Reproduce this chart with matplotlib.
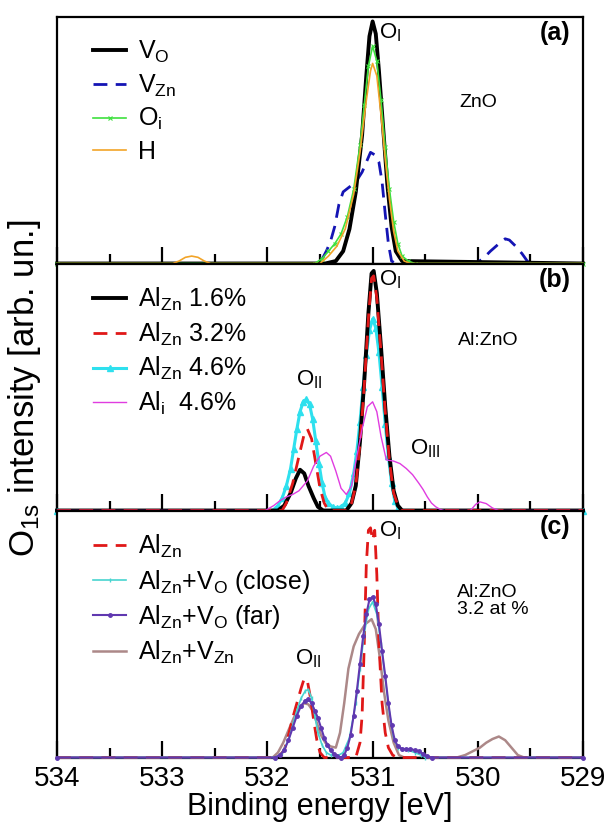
import matplotlib
matplotlib.use('Agg')
import matplotlib.pyplot as plt
from matplotlib.ticker import MultipleLocator

plt.rcParams['font.family'] = ['Liberation Sans', 'DejaVu Sans']
plt.rcParams['mathtext.fontset'] = 'custom'
plt.rcParams['mathtext.rm'] = 'Liberation Sans'
plt.rcParams['mathtext.it'] = 'Liberation Sans:italic'

# ---- panel (a): ZnO ----
vo_e = [534, 531.45, 531.35, 531.28, 531.22, 531.16, 531.10, 531.06, 531.03, 531.0,
        530.97, 530.94, 530.90, 530.86, 530.82, 530.78, 530.72, 529]
vo_y = [0, 0, 0.01, 0.05, 0.14, 0.29, 0.52, 0.76, 0.92, 0.98,
        0.93, 0.78, 0.55, 0.32, 0.15, 0.05, 0.01, 0]

vzn_e = [534, 531.52, 531.49, 531.44, 531.40, 531.36, 531.32, 531.28, 531.22, 531.16,
         531.10, 531.06, 531.02, 530.98, 530.94, 530.91, 530.88, 530.85, 530.82, 530.78,
         530.02, 529.95, 529.88, 529.80, 529.74, 529.70, 529.64, 529.58, 529.53, 529.5, 529]
vzn_y = [0, 0, 0.01, 0.05, 0.09, 0.15, 0.24, 0.29, 0.31, 0.33,
         0.37, 0.41, 0.45, 0.44, 0.41, 0.33, 0.20, 0.08, 0.01, 0,
         0, 0.02, 0.05, 0.08, 0.10, 0.095, 0.07, 0.04, 0.01, 0, 0]

oi_e = [534, 531.55, 531.48, 531.42, 531.36, 531.30, 531.24, 531.18, 531.12, 531.08,
        531.04, 531.0, 530.96, 530.92, 530.88, 530.84, 530.80, 530.76, 530.72, 530.66,
        530.6, 529]
oi_y = [0, 0, 0.02, 0.05, 0.08, 0.12, 0.19, 0.30, 0.48, 0.64,
        0.80, 0.88, 0.82, 0.66, 0.47, 0.30, 0.17, 0.08, 0.03, 0.01,
        0, 0]

h_e = [534, 532.9, 532.84, 532.78, 532.72, 532.66, 532.6, 532.54, 531.5, 531.42,
       531.34, 531.26, 531.18, 531.12, 531.06, 531.02, 531.0, 530.96, 530.92, 530.88,
       530.84, 530.80, 530.76, 530.7, 530.64, 529]
h_y = [0, 0, 0.01, 0.025, 0.03, 0.025, 0.01, 0, 0, 0.03,
       0.07, 0.14, 0.28, 0.45, 0.66, 0.78, 0.81, 0.76, 0.60, 0.42,
       0.26, 0.13, 0.05, 0.01, 0, 0]

# ---- panel (b): Al:ZnO ----
al16_e = [534, 531.9, 531.84, 531.78, 531.73, 531.69, 531.65, 531.61, 531.56, 531.52,
          531.47, 531.25, 531.2, 531.16, 531.12, 531.08, 531.04, 531.01, 530.99, 530.96,
          530.92, 530.88, 530.84, 530.80, 530.76, 530.72, 529]
al16_y = [0, 0, 0.02, 0.07, 0.13, 0.165, 0.15, 0.10, 0.05, 0.015,
          0, 0, 0.03, 0.10, 0.28, 0.52, 0.80, 0.96, 0.97, 0.88,
          0.66, 0.42, 0.22, 0.08, 0.02, 0, 0]

al32_e = [534, 531.86, 531.82, 531.76, 531.70, 531.65, 531.62, 531.58, 531.54, 531.50,
          531.46, 531.42, 531.24, 531.2, 531.16, 531.12, 531.08, 531.04, 531.01, 530.99,
          530.96, 530.92, 530.88, 530.84, 530.80, 530.76, 530.72, 529]
al32_y = [0, 0, 0.03, 0.11, 0.22, 0.31, 0.33, 0.29, 0.19, 0.09,
          0.03, 0, 0, 0.03, 0.10, 0.27, 0.50, 0.78, 0.94, 0.95,
          0.86, 0.64, 0.40, 0.20, 0.07, 0.02, 0, 0]

al46_e = [534, 531.95, 531.90, 531.86, 531.82, 531.78, 531.75, 531.72, 531.69, 531.66,
          531.63, 531.60, 531.57, 531.54, 531.51, 531.48, 531.45, 531.42, 531.38, 531.34,
          531.30, 531.26, 531.22, 531.18, 531.15, 531.12, 531.09, 531.06, 531.03, 531.0,
          530.97, 530.94, 530.91, 530.88, 530.85, 530.82, 530.79, 530.76, 530.72, 529]
al46_y = [0, 0, 0.02, 0.05, 0.10, 0.17, 0.25, 0.33, 0.40, 0.44,
          0.45, 0.43, 0.37, 0.28, 0.19, 0.11, 0.05, 0.03, 0.015, 0.01,
          0.015, 0.03, 0.07, 0.15, 0.24, 0.36, 0.50, 0.63, 0.73, 0.775,
          0.74, 0.64, 0.50, 0.35, 0.22, 0.11, 0.04, 0.01, 0, 0]

ali_e = [534, 532.02, 531.98, 531.94, 531.88, 531.82, 531.76, 531.70, 531.62, 531.56,
         531.50, 531.44, 531.40, 531.35, 531.30, 531.25, 531.20, 531.15, 531.10, 531.05,
         531.0, 530.96, 530.92, 530.87, 530.80, 530.74, 530.68, 530.62, 530.56, 530.52,
         530.48, 530.44, 530.40, 530.36, 530.32, 530.07, 530.02, 529.98, 529.92, 529.86,
         529.80, 529]
ali_y = [0, 0, 0.01, 0.02, 0.04, 0.055, 0.065, 0.08, 0.12, 0.18,
         0.22, 0.235, 0.22, 0.16, 0.09, 0.065, 0.10, 0.22, 0.33, 0.42,
         0.44, 0.40, 0.30, 0.205, 0.20, 0.19, 0.17, 0.145, 0.11, 0.085,
         0.055, 0.03, 0.015, 0.005, 0, 0, 0.025, 0.035, 0.028, 0.01,
         0, 0]

# ---- panel (c): Al:ZnO 3.2 at % with defects ----
alzn_e = [534, 531.90, 531.84, 531.80, 531.76, 531.72, 531.68, 531.65, 531.62, 531.59,
          531.56, 531.53, 531.50, 531.46, 531.16, 531.12, 531.10, 531.08, 531.06, 531.04,
          531.02, 531.0, 530.98, 530.96, 530.94, 530.91, 530.88, 530.85, 530.81, 530.77, 529]
alzn_y = [0, 0, 0.03, 0.09, 0.16, 0.22, 0.28, 0.32, 0.31, 0.24,
          0.15, 0.07, 0.02, 0, 0, 0.06, 0.17, 0.45, 0.78, 0.92,
          0.93, 0.88, 0.92, 0.74, 0.46, 0.22, 0.10, 0.04, 0.01, 0, 0]

close_e = [534, 531.92, 531.86, 531.80, 531.76, 531.72, 531.68, 531.64, 531.61, 531.58,
           531.55, 531.52, 531.48, 531.44, 531.40, 531.34, 531.28, 531.22, 531.16, 531.12,
           531.08, 531.04, 531.0, 530.96, 530.92, 530.88, 530.84, 530.80, 530.76, 530.72,
           530.66, 530.60, 530.54, 530.5, 529]
close_y = [0, 0, 0.02, 0.07, 0.13, 0.19, 0.24, 0.27, 0.275, 0.24,
           0.17, 0.10, 0.05, 0.02, 0.01, 0.005, 0.02, 0.08, 0.22, 0.36,
           0.50, 0.60, 0.63, 0.58, 0.46, 0.32, 0.18, 0.08, 0.04, 0.035,
           0.03, 0.02, 0.01, 0, 0]

far_e = [534, 531.93, 531.88, 531.84, 531.80, 531.76, 531.72, 531.68, 531.64, 531.61,
         531.58, 531.55, 531.52, 531.49, 531.46, 531.43, 531.40, 531.37, 531.34, 531.30,
         531.27, 531.24, 531.21, 531.18, 531.15, 531.12, 531.09, 531.06, 531.03, 531.0,
         530.97, 530.94, 530.91, 530.88, 530.85, 530.82, 530.79, 530.76, 530.72, 530.68,
         530.64, 530.60, 530.56, 530.52, 530.48, 530.44, 529]
far_y = [0, 0, 0.01, 0.03, 0.07, 0.12, 0.17, 0.21, 0.23, 0.235,
         0.22, 0.19, 0.16, 0.12, 0.08, 0.05, 0.03, 0.015, 0.005, 0.0,
         0.01, 0.04, 0.09, 0.17, 0.27, 0.38, 0.49, 0.58, 0.64, 0.65,
         0.62, 0.54, 0.43, 0.33, 0.22, 0.13, 0.07, 0.045, 0.035, 0.034,
         0.034, 0.03, 0.025, 0.015, 0.005, 0, 0]

vznc_e = [534, 531.95, 531.90, 531.85, 531.80, 531.75, 531.70, 531.65, 531.61, 531.57,
          531.53, 531.49, 531.45, 531.40, 531.35, 531.31, 531.27, 531.23, 531.18, 531.13,
          531.07, 531.01, 530.97, 530.93, 530.89, 530.85, 530.80, 530.75, 530.70, 530.2,
          530.12, 530.05, 529.98, 529.92, 529.86, 529.80, 529.74, 529.68, 529.62, 529.56, 529]
vznc_y = [0, 0, 0.02, 0.06, 0.11, 0.16, 0.20, 0.22, 0.215, 0.19,
          0.14, 0.09, 0.06, 0.045, 0.04, 0.10, 0.22, 0.36, 0.45, 0.50,
          0.54, 0.56, 0.52, 0.40, 0.26, 0.15, 0.06, 0.01, 0, 0,
          0.01, 0.025, 0.04, 0.06, 0.075, 0.085, 0.07, 0.04, 0.01, 0, 0]

fig = plt.figure(figsize=(6.08, 8.25), dpi=100)
h = 0.2994
ax_a = fig.add_axes([0.0938, 0.6806, 0.8651, h])
ax_b = fig.add_axes([0.0938, 0.3812, 0.8651, h])
ax_c = fig.add_axes([0.0938, 0.0818, 0.8651, h])

ax_a.plot(vo_e, vo_y, color='black', lw=2.8, label=r'V$_\mathrm{O}$', zorder=5)
ax_a.plot(vzn_e, vzn_y, color='#1414b4', lw=2, dashes=(5, 3), label=r'V$_\mathrm{Zn}$', zorder=4)
ax_a.plot(oi_e, oi_y, color='#3ee03e', lw=1.2, marker='x', ms=3, mew=0.8,
          label=r'O$_\mathrm{i}$', zorder=6)
ax_a.plot(h_e, h_y, color='#f2a428', lw=1.2, label='H', zorder=6)

ax_b.plot(al16_e, al16_y, color='black', lw=2.8, label=r'Al$_\mathrm{Zn}$ 1.6%', zorder=4)
ax_b.plot(al32_e, al32_y, color='#e01818', lw=2, dashes=(5, 3), label=r'Al$_\mathrm{Zn}$ 3.2%', zorder=5)
ax_b.plot(al46_e, al46_y, color='#2ee0ee', lw=2.2, marker='^', ms=5,
          label=r'Al$_\mathrm{Zn}$ 4.6%', zorder=3)
ax_b.plot(ali_e, ali_y, color='#e03ce0', lw=1, label=r'Al$_\mathrm{i}$  4.6%', zorder=6)

ax_c.plot(alzn_e, alzn_y, color='#e01818', lw=2, dashes=(5, 3), label=r'Al$_\mathrm{Zn}$', zorder=3)
ax_c.plot(close_e, close_y, color='#48d4d0', lw=1.2, marker='|', ms=3,
          label=r'Al$_\mathrm{Zn}$+V$_\mathrm{O}$ (close)', zorder=4)
ax_c.plot(far_e, far_y, color='#6038b0', lw=1.5, marker='o', ms=2.5,
          label=r'Al$_\mathrm{Zn}$+V$_\mathrm{O}$ (far)', zorder=5)
ax_c.plot(vznc_e, vznc_y, color='#ac8888', lw=1.8, label=r'Al$_\mathrm{Zn}$+V$_\mathrm{Zn}$', zorder=2)

for ax, tag in [(ax_a, '(a)'), (ax_b, '(b)'), (ax_c, '(c)')]:
    ax.set_xlim(534, 529)
    ax.set_ylim(0, 1.0)
    for ln in ax.get_lines():
        ln.set_clip_on(False)
    ax.set_yticks([])
    ax.xaxis.set_major_locator(MultipleLocator(1))
    ax.xaxis.set_minor_locator(MultipleLocator(0.5))
    ax.tick_params(axis='x', which='major', direction='in', length=12, width=1.6,
                   labelsize=20, pad=6)
    ax.tick_params(axis='x', which='minor', direction='in', length=7, width=1.6)
    for sp in ax.spines.values():
        sp.set_linewidth(1.6)
    ax.text(0.946, 0.935, tag, transform=ax.transAxes, fontsize=18,
            fontweight='bold', ha='center', va='center')
    ax.legend(loc='upper left', bbox_to_anchor=(0.05, 0.95), frameon=False,
              fontsize=18, handlelength=1.3, handletextpad=0.5, labelspacing=0.3,
              borderaxespad=0)

ax_a.tick_params(axis='x', labelbottom=False)
ax_b.tick_params(axis='x', labelbottom=False)

# inline annotations
ax_a.text(530.83, 0.935, r'O$_\mathrm{I}$', fontsize=16, ha='center', va='center')
ax_a.text(530.0, 0.65, 'ZnO', fontsize=14, ha='center', va='center')
ax_b.text(530.83, 0.935, r'O$_\mathrm{I}$', fontsize=16, ha='center', va='center')
ax_b.text(531.6, 0.53, r'O$_\mathrm{II}$', fontsize=16, ha='center', va='center')
ax_b.text(530.5, 0.25, r'O$_\mathrm{III}$', fontsize=16, ha='center', va='center')
ax_b.text(529.9, 0.69, 'Al:ZnO', fontsize=14, ha='center', va='center')
ax_c.text(530.83, 0.92, r'O$_\mathrm{I}$', fontsize=16, ha='center', va='center')
ax_c.text(531.61, 0.40, r'O$_\mathrm{II}$', fontsize=16, ha='center', va='center')
ax_c.text(530.2, 0.635, 'Al:ZnO\n3.2 at %', fontsize=14, ha='left', va='center',
          linespacing=1.0)

ax_c.set_xlabel('Binding energy [eV]', fontsize=22, labelpad=0)
fig.text(0.04, 0.53, r'O$_\mathrm{1s}$ intensity [arb. un.]', rotation=90,
         fontsize=25, ha='center', va='center')

fig.savefig('out.png', dpi=100)
